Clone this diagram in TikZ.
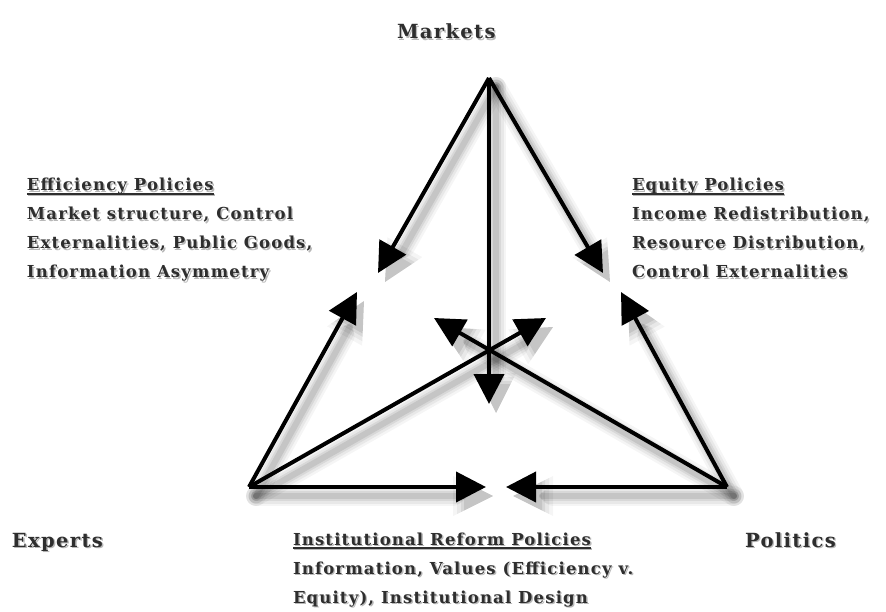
\documentclass[tikz,border=0pt]{standalone}
\usepackage{fontspec}
\setmainfont{DejaVu Serif}[LetterSpace=7]
\usetikzlibrary{arrows.meta}

% underline with a heavier rule
\newcommand\heading[1]{\setbox0\hbox{#1}\rlap{\rule[-3.6pt]{\wd0}{1.9pt}}\box0}

\tikzset{
  lbl/.style={inner sep=0pt, outer sep=0pt, align=left, font=\bfseries\fontsize{16.5}{29}\selectfont, text=black!82},
  big/.style={inner sep=0pt, outer sep=0pt, font=\bfseries\fontsize{19.5}{22}\selectfont, text=black!82},
  txtshadow/.style={text=black!28},
  link/.style={line width=4pt, -{Triangle[length=30pt,width=30pt]}},
}

% all nine connectors; #1 = style, #2 = shift
\newcommand\linkset[2]{%
  \draw[#1] ([shift={#2}]M) -- ([shift={#2}]tML);
  \draw[#1] ([shift={#2}]M) -- ([shift={#2}]tMR);
  \draw[#1] ([shift={#2}]M) -- ([shift={#2}]tMD);
  \draw[#1] ([shift={#2}]E) -- ([shift={#2}]tEU);
  \draw[#1] ([shift={#2}]E) -- ([shift={#2}]tEC);
  \draw[#1] ([shift={#2}]E) -- ([shift={#2}]tEH);
  \draw[#1] ([shift={#2}]P) -- ([shift={#2}]tPU);
  \draw[#1] ([shift={#2}]P) -- ([shift={#2}]tPC);
  \draw[#1] ([shift={#2}]P) -- ([shift={#2}]tPH);
}

% text with a soft offset shadow; #1 = name, #2 = x,y of the last baseline, #3 = style, #4 = text
\newcommand\shadowtext[4]{%
  \node[#3, txtshadow, anchor=base west] at ([shift={(1.4,1.4)}]#2) {#4};
  \node[#3, anchor=base west] (#1) at (#2) {#4};
}

\begin{document}
\begin{tikzpicture}[x=1pt, y=-1pt]
  \useasboundingbox (0,0) rectangle (886,612);

  % triangle vertices
  \coordinate (M) at (489,78);
  \coordinate (E) at (249,487);
  \coordinate (P) at (727,487);
  % arrow tips
  \coordinate (tML) at (378,273);
  \coordinate (tMR) at (603,273);
  \coordinate (tMD) at (489,404);
  \coordinate (tEU) at (357,292);
  \coordinate (tEC) at (546,318);
  \coordinate (tEH) at (486,487);
  \coordinate (tPU) at (621,292);
  \coordinate (tPC) at (434,318);
  \coordinate (tPH) at (506,487);

  % blurred drop shadow of the connectors: widening, fainter layers
  \foreach \w/\t/\o in {20/40/0.04, 15/36/0.055, 10/32/0.07, 6/29/0.09} {
    \linkset{line width=\w pt, draw=black, opacity=\o, line cap=round,
             -{Triangle[length=\t pt,width=\t pt,line width=0pt]}}{(7,9)}
  }
  % connectors
  \linkset{link}{(0,0)}

  % corner labels
  \shadowtext{markets}{397,39}{big}{Markets}
  \shadowtext{experts}{12,547}{big}{Experts}
  \shadowtext{politics}{745,547}{big}{Politics}

  % policy blocks
  \shadowtext{effic}{27,278}{lbl}{\heading{Efficiency Policies}\\
    Market structure, Control\\
    Externalities, Public Goods,\\
    Information Asymmetry}
  \shadowtext{equity}{632,278}{lbl}{\heading{Equity Policies}\\
    Income Redistribution,\\
    Resource Distribution,\\
    Control Externalities}
  \shadowtext{reform}{293,603}{lbl}{\heading{Institutional Reform Policies}\\
    Information, Values (Efficiency v.\\
    Equity), Institutional Design}
\end{tikzpicture}
\end{document}
